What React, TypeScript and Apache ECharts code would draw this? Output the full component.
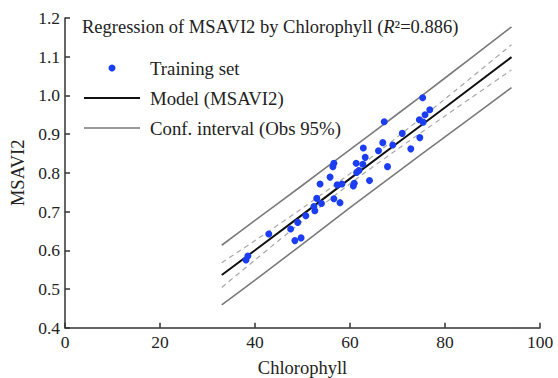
import React, { useEffect, useRef } from "react";
import * as echarts from "echarts";

// Training set
const chlorophyll = [38.1, 38.5, 42.9, 47.5, 48.4, 49.7, 49.0, 50.7, 52.4, 52.6, 53.0, 54.0, 53.7, 55.8, 56.6, 57.3, 57.9, 56.4, 56.6, 58.3, 60.7, 60.9, 61.3, 61.4, 61.9, 62.7, 62.8, 63.2, 64.1, 66.0, 66.9, 67.9, 69.0, 67.2, 71.0, 72.8, 74.6, 74.7, 75.4, 75.8, 75.3, 76.8];
const msavi2 = [0.575, 0.585, 0.642, 0.655, 0.625, 0.632, 0.672, 0.689, 0.713, 0.702, 0.734, 0.721, 0.771, 0.789, 0.733, 0.769, 0.723, 0.816, 0.825, 0.771, 0.766, 0.773, 0.825, 0.801, 0.806, 0.822, 0.864, 0.840, 0.780, 0.857, 0.878, 0.816, 0.872, 0.932, 0.902, 0.862, 0.937, 0.891, 0.931, 0.950, 0.994, 0.963];

// Model and intervals
const bandX = [33, 40, 50, 60, 70, 80, 94];
const modelY = [0.536, 0.600, 0.692, 0.785, 0.877, 0.969, 1.099];
const meanUpper = [0.568, 0.625, 0.709, 0.798, 0.893, 0.991, 1.131];
const meanLower = [0.504, 0.575, 0.675, 0.772, 0.861, 0.947, 1.066];
const obsUpper = [0.613, 0.677, 0.768, 0.860, 0.952, 1.045, 1.177];
const obsLower = [0.459, 0.523, 0.616, 0.710, 0.802, 0.893, 1.020];

const titleText = "Regression of MSAVI2 by Chlorophyll";
const legendNames = ["Training set", "Model (MSAVI2)", "Conf. interval (Obs 95%)"];

const pair = (xs: number[], ys: number[]) => xs.map((x, i) => [x, ys[i]]);

export default function App() {
  const ref = useRef<HTMLDivElement>(null);
  useEffect(() => {
    if (!ref.current) return;
    const chart = echarts.init(ref.current, null, { renderer: "svg" });
    const font = "'Liberation Serif', 'Times New Roman', serif";
    const axisCommon = {
      axisLine: { show: true, lineStyle: { color: "#333", width: 1.5 } },
      axisTick: { show: true, inside: true, length: 5, lineStyle: { color: "#333", width: 1.5 } },
      splitLine: { show: false },
      axisLabel: { color: "#222", fontFamily: font, fontSize: 17.5 },
      nameTextStyle: { color: "#222", fontFamily: font, fontSize: 18.5, lineHeight: 18 },
    };
    chart.setOption({
      animation: false,
      backgroundColor: "#fff",
      title: {
        text: `{t|${titleText} (}{i|R}{t|²=0.886)}`,
        left: 77,
        top: 12,
        textStyle: {
          fontWeight: "normal",
          rich: {
            t: { fontFamily: font, fontSize: 18.5, color: "#222", fontWeight: "normal" },
            i: { fontFamily: font, fontSize: 18.5, color: "#222", fontStyle: "italic", fontWeight: "normal" },
          },
        },
      },
      legend: {
        orient: "vertical",
        left: 79,
        top: 53.5,
        itemWidth: 56,
        itemHeight: 7,
        itemGap: 11,
        textStyle: { fontFamily: font, fontSize: 18.8, color: "#222", padding: [0, 0, 0, 5] },
        data: [
          { name: legendNames[0], icon: "circle" },
          { name: legendNames[1], icon: "path://M0,0H56V2H0Z" },
          { name: legendNames[2], icon: "path://M0,0H56V1.6H0Z" },
        ],
      },
      grid: { left: 65, right: 18, top: 18, bottom: 50.3, containLabel: false, outerBoundsMode: "none" },
      xAxis: {
        ...axisCommon,
        type: "value",
        min: 0,
        max: 100,
        interval: 20,
        name: "Chlorophyll",
        nameLocation: "middle",
        nameGap: 31,
        axisLabel: { ...axisCommon.axisLabel, margin: 5 },
      },
      yAxis: {
        ...axisCommon,
        type: "value",
        min: 0.4,
        max: 1.2,
        interval: 0.1,
        name: "MSAVI2",
        nameLocation: "middle",
        nameGap: 36,
        axisLabel: { ...axisCommon.axisLabel, margin: 5, formatter: (v: number) => v.toFixed(1) },
      },
      series: [
        {
          name: legendNames[2],
          type: "line",
          data: pair(bandX, obsUpper),
          symbol: "none",
          smooth: 0.3,
          lineStyle: { color: "#7a7a7a", width: 1.6 },
          itemStyle: { color: "#7a7a7a" },
          z: 2,
        },
        {
          name: "obsLower",
          type: "line",
          data: pair(bandX, obsLower),
          symbol: "none",
          smooth: 0.3,
          lineStyle: { color: "#7a7a7a", width: 1.6 },
          z: 2,
        },
        {
          name: "meanUpper",
          type: "line",
          data: pair(bandX, meanUpper),
          symbol: "none",
          smooth: 0.3,
          lineStyle: { color: "#a8a8a8", width: 1.2, type: [5, 4] },
          z: 2,
        },
        {
          name: "meanLower",
          type: "line",
          data: pair(bandX, meanLower),
          symbol: "none",
          smooth: 0.3,
          lineStyle: { color: "#a8a8a8", width: 1.2, type: [5, 4] },
          z: 2,
        },
        {
          name: legendNames[1],
          type: "line",
          data: pair(bandX, modelY),
          symbol: "none",
          lineStyle: { color: "#111", width: 2 },
          itemStyle: { color: "#111" },
          z: 3,
        },
        {
          name: legendNames[0],
          type: "scatter",
          data: pair(chlorophyll, msavi2),
          symbolSize: 7,
          itemStyle: { color: "#1c3ef2", opacity: 1 },
          z: 4,
        },
      ],
    });
    return () => chart.dispose();
  }, []);
  return (
    <div
      ref={ref}
      style={{ position: "fixed", left: 0, top: 0, width: 558, height: 378, background: "#fff" }}
    />
  );
}
